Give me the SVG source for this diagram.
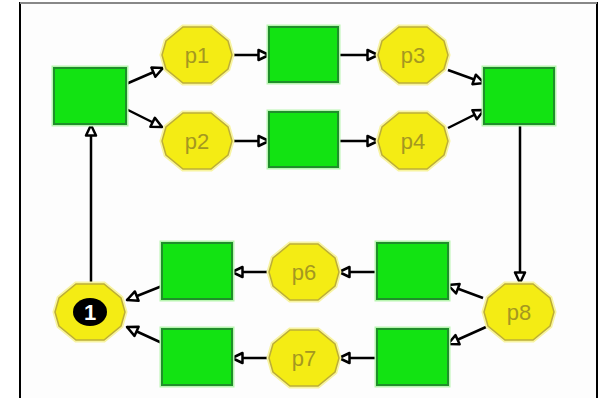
<svg xmlns="http://www.w3.org/2000/svg" width="602" height="398" viewBox="0 0 602 398">
<style>
.tr{fill:#12e312;stroke:#1f8f2a;stroke-width:2}
.halo{fill:none;stroke:#b8f5b0;stroke-width:5}
.pl{fill:#f4ec14;stroke:#bcae38;stroke-width:1.5}
.plh{fill:none;stroke:#f8f4a0;stroke-width:5}
.lbl{font-family:"Liberation Sans",Arial,sans-serif;font-size:22px;fill:#a49820;text-anchor:middle}
.arc{stroke:#000;stroke-width:2.5;fill:none;marker-end:url(#ah)}
</style>
<defs>
<marker id="ah" markerUnits="userSpaceOnUse" markerWidth="16" markerHeight="14" viewBox="0 0 16 14" refX="13" refY="7" orient="auto">
<path d="M2.5,2 L13,7 L2.5,12 Z" fill="#fff" stroke="#000" stroke-width="2.5" stroke-linejoin="round"/>
</marker>
<path id="oct" d="M-14,-28 L14,-28 L31,-14 L35,0 L31,14 L14,28 L-14,28 L-31,14 L-35,0 L-31,-14 Z"/>
</defs>
<rect width="602" height="398" fill="#fff"/>
<rect x="20" y="3" width="577" height="400" fill="#fdfdfd" stroke="#000" stroke-width="2"/>
<line x1="20" y1="3" x2="597" y2="3" stroke="#888" stroke-width="2"/>

<g id="connectors">
<line class="arc" x1="126" y1="84" x2="163" y2="68"/>
<line class="arc" x1="126" y1="109" x2="162" y2="127"/>
<line class="arc" x1="232" y1="55" x2="269" y2="55"/>
<line class="arc" x1="232" y1="141" x2="269" y2="141"/>
<line class="arc" x1="338" y1="55" x2="378" y2="55"/>
<line class="arc" x1="338" y1="141" x2="378" y2="141"/>
<line class="arc" x1="448" y1="70" x2="484" y2="83"/>
<line class="arc" x1="448" y1="128" x2="484" y2="110"/>
<line class="arc" x1="520" y1="124" x2="520" y2="283"/>
<line class="arc" x1="483" y1="298" x2="448" y2="285"/>
<line class="arc" x1="486" y1="327" x2="448" y2="344"/>
<line class="arc" x1="377" y1="272" x2="339" y2="272"/>
<line class="arc" x1="377" y1="358" x2="339" y2="358"/>
<line class="arc" x1="270" y1="272" x2="232" y2="272"/>
<line class="arc" x1="270" y1="358" x2="232" y2="358"/>
<line class="arc" x1="162" y1="286" x2="127" y2="300"/>
<line class="arc" x1="162" y1="343" x2="127" y2="327"/>
<line class="arc" x1="91" y1="283" x2="91" y2="125"/>
</g>

<g id="t1"><rect class="halo" x="54" y="68" width="72" height="56"/><rect class="tr" x="54" y="68" width="72" height="56"/></g>
<g id="t2"><rect class="halo" x="269" y="27" width="69" height="55"/><rect class="tr" x="269" y="27" width="69" height="55"/></g>
<g id="t3"><rect class="halo" x="269" y="112" width="69" height="55"/><rect class="tr" x="269" y="112" width="69" height="55"/></g>
<g id="t4"><rect class="halo" x="484" y="68" width="70" height="56"/><rect class="tr" x="484" y="68" width="70" height="56"/></g>
<g id="t5"><rect class="halo" x="377" y="243" width="71" height="56"/><rect class="tr" x="377" y="243" width="71" height="56"/></g>
<g id="t6"><rect class="halo" x="377" y="329" width="71" height="56"/><rect class="tr" x="377" y="329" width="71" height="56"/></g>
<g id="t7"><rect class="halo" x="162" y="243" width="70" height="56"/><rect class="tr" x="162" y="243" width="70" height="56"/></g>
<g id="t8"><rect class="halo" x="162" y="329" width="70" height="56"/><rect class="tr" x="162" y="329" width="70" height="56"/></g>

<g id="p1" transform="translate(197,55)"><use href="#oct" class="plh"/><use href="#oct" class="pl"/><text class="lbl" y="8">p1</text></g>
<g id="p2" transform="translate(197,141)"><use href="#oct" class="plh"/><use href="#oct" class="pl"/><text class="lbl" y="8">p2</text></g>
<g id="p3" transform="translate(413,55)"><use href="#oct" class="plh"/><use href="#oct" class="pl"/><text class="lbl" y="8">p3</text></g>
<g id="p4" transform="translate(413,141)"><use href="#oct" class="plh"/><use href="#oct" class="pl"/><text class="lbl" y="8">p4</text></g>
<g id="p6" transform="translate(304,272)"><use href="#oct" class="plh"/><use href="#oct" class="pl"/><text class="lbl" y="8">p6</text></g>
<g id="p7" transform="translate(304,358)"><use href="#oct" class="plh"/><use href="#oct" class="pl"/><text class="lbl" y="8">p7</text></g>
<g id="p8" transform="translate(519,312)"><use href="#oct" class="plh"/><use href="#oct" class="pl"/><text class="lbl" y="8">p8</text></g>
<g id="p0" transform="translate(90,312)"><use href="#oct" class="plh"/><use href="#oct" class="pl"/><ellipse rx="17" ry="14" fill="#000"/><text y="8" style="font-family:'Liberation Sans',Arial,sans-serif;font-size:22px;font-weight:bold;fill:#fff;text-anchor:middle">1</text></g>
</svg>
